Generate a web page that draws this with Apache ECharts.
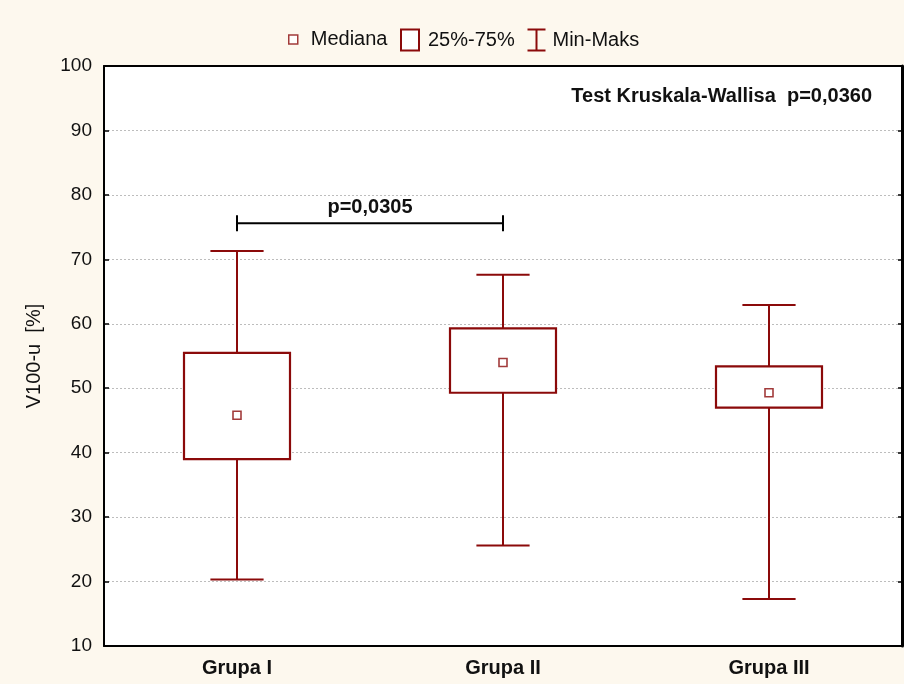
<!DOCTYPE html>
<html><head><meta charset="utf-8">
<script src="https://cdn.jsdelivr.net/npm/echarts@6/dist/echarts.min.js"></script>
<style>html,body{margin:0;padding:0;background:#fdf8ee}#c{width:904px;height:684px}</style>
</head><body><div id="c"></div>
<script>
// ---- data ----
const categories = ['Grupa I', 'Grupa II', 'Grupa III'];
const minValues = [20.3, 25.6, 17.3];
const q1Values = [39.0, 49.3, 47.0];
const medianValues = [45.8, 54.0, 49.3];
const q3Values = [55.5, 59.3, 53.4];
const maxValues = [71.3, 67.6, 62.9];
const yMin = 10, yMax = 100, yInterval = 10;
const comparisonFrom = 0, comparisonTo = 1, comparisonY = 75.6;
const comparisonLabel = 'p=0,0305';
const testLabel = 'Test Kruskala-Wallisa  p=0,0360';
const yAxisName = 'V100-u  [%]';
const legendNames = ['Mediana', '25%-75%', 'Min-Maks'];

// ---- styling ----
const RED = '#8b0a0a';
const FONT = '"Liberation Sans", Arial, sans-serif';

const boxData = categories.map((c, i) => [i, q1Values[i], q3Values[i]]);
const whiskerData = categories.map((c, i) => [i, minValues[i], q1Values[i], q3Values[i], maxValues[i]]);
const medianData = categories.map((c, i) => [i, medianValues[i]]);

const chart = echarts.init(document.getElementById('c'), null, {renderer: 'canvas'});

const legendBase = {
  orient: 'horizontal', padding: 0, itemGap: 0,
  textStyle: {fontSize: 20, color: '#111', fontFamily: FONT},
  selectedMode: false
};

chart.setOption({
  backgroundColor: '#fdf8ee',
  animation: false,
  grid: {left: 104, right: 2, top: 66, bottom: 38, show: true, backgroundColor: '#ffffff', borderWidth: 0},
  legend: [
    Object.assign({}, legendBase, {
      left: 288, top: 29.5, itemWidth: 9, itemHeight: 9,
      data: [{name: legendNames[0], icon: 'rect'}],
      itemStyle: {color: '#fff', borderColor: RED, borderWidth: 1.5},
      textStyle: Object.assign({}, legendBase.textStyle, {padding: [0, 0, 0, 8]})
    }),
    Object.assign({}, legendBase, {
      left: 400, top: 28.5, itemWidth: 18, itemHeight: 21,
      data: [{name: legendNames[1], icon: 'rect'}],
      itemStyle: {color: '#fff', borderColor: RED, borderWidth: 2},
      textStyle: Object.assign({}, legendBase.textStyle, {padding: [0, 0, 0, 4]})
    }),
    Object.assign({}, legendBase, {
      left: 525, top: 27, itemWidth: 18, itemHeight: 21,
      data: [{name: legendNames[2], icon: 'path://M0,0H18M9,0V21M0,21H18'}],
      itemStyle: {color: 'none', borderColor: RED, borderWidth: 2},
      textStyle: Object.assign({}, legendBase.textStyle, {padding: [0, 0, 0, 2]})
    })
  ],
  xAxis: [{
    type: 'category', data: categories, boundaryGap: true,
    axisLine: {lineStyle: {color: '#000', width: 2}},
    axisTick: {inside: true, alignWithLabel: true, length: 5, lineStyle: {color: '#000', width: 1.5}},
    axisLabel: {fontSize: 20, fontWeight: 'bold', color: '#111', fontFamily: FONT, margin: 12},
    splitLine: {show: false}
  }, {
    type: 'category', data: categories, position: 'top', boundaryGap: true,
    axisLine: {lineStyle: {color: '#000', width: 2}},
    axisTick: {inside: true, alignWithLabel: true, length: 5, lineStyle: {color: '#000', width: 1.5}},
    axisLabel: {show: false}, splitLine: {show: false}
  }],
  yAxis: [{
    type: 'value', min: yMin, max: yMax, interval: yInterval,
    name: yAxisName, nameLocation: 'middle', nameGap: 60,
    nameTextStyle: {fontSize: 20, color: '#111', fontFamily: FONT},
    axisLine: {show: true, lineStyle: {color: '#000', width: 2}},
    axisTick: {show: true, inside: true, length: 5, lineStyle: {color: '#000', width: 1.5}},
    axisLabel: {fontSize: 19, color: '#111', fontFamily: FONT, margin: 12},
    splitLine: {show: true, lineStyle: {color: '#bdbdbd', width: 1, type: [2, 2]}}
  }, {
    type: 'value', min: yMin, max: yMax, interval: yInterval, position: 'right',
    axisLine: {show: true, lineStyle: {color: '#000', width: 3}},
    axisTick: {show: true, inside: true, length: 4, lineStyle: {color: '#000', width: 1.5}},
    axisLabel: {show: false}, splitLine: {show: false}
  }],
  series: [
    {
      name: legendNames[2], type: 'custom', xAxisIndex: 0, yAxisIndex: 0,
      data: whiskerData, encode: {x: 0, y: [1, 2, 3, 4]}, z: 3,
      renderItem: function (params, api) {
        const i = api.value(0);
        const pMin = api.coord([i, api.value(1)]);
        const pQ1 = api.coord([i, api.value(2)]);
        const pQ3 = api.coord([i, api.value(3)]);
        const pMax = api.coord([i, api.value(4)]);
        const cw = api.size([1, 0])[0] * 0.2;
        const x = Math.round(pMin[0]);
        const st = {stroke: RED, lineWidth: 2};
        return {type: 'group', children: [
          {type: 'line', shape: {x1: x, y1: pMax[1], x2: x, y2: pQ3[1]}, style: st},
          {type: 'line', shape: {x1: x, y1: pQ1[1], x2: x, y2: pMin[1]}, style: st},
          {type: 'line', shape: {x1: x - cw / 2, y1: pMax[1], x2: x + cw / 2, y2: pMax[1]}, style: st},
          {type: 'line', shape: {x1: x - cw / 2, y1: pMin[1], x2: x + cw / 2, y2: pMin[1]}, style: st}
        ]};
      }
    },
    {
      name: legendNames[1], type: 'custom', xAxisIndex: 0, yAxisIndex: 0,
      data: boxData, encode: {x: 0, y: [1, 2]}, z: 4,
      renderItem: function (params, api) {
        const i = api.value(0);
        const pQ1 = api.coord([i, api.value(1)]);
        const pQ3 = api.coord([i, api.value(2)]);
        const bw = api.size([1, 0])[0] * 0.4;
        return {type: 'rect',
          shape: {x: Math.round(pQ1[0] - bw / 2), y: pQ3[1], width: Math.round(bw), height: pQ1[1] - pQ3[1]},
          style: {fill: '#fff', stroke: RED, lineWidth: 2.2}};
      }
    },
    {
      name: legendNames[0], type: 'scatter', xAxisIndex: 0, yAxisIndex: 0,
      data: medianData, symbol: 'rect', symbolSize: 8, z: 5,
      itemStyle: {color: '#fff', borderColor: RED, borderWidth: 1.6}
    },
    {
      name: 'comparison', type: 'custom', xAxisIndex: 0, yAxisIndex: 0,
      data: [[comparisonFrom, comparisonTo, comparisonY]], encode: {x: [0, 1], y: 2}, z: 6,
      renderItem: function (params, api) {
        const p0 = api.coord([api.value(0), api.value(2)]);
        const p1 = api.coord([api.value(1), api.value(2)]);
        const st = {stroke: '#000', lineWidth: 2};
        const y = p0[1];
        return {type: 'group', children: [
          {type: 'line', shape: {x1: p0[0], y1: y, x2: p1[0], y2: y}, style: st},
          {type: 'line', shape: {x1: p0[0], y1: y - 8, x2: p0[0], y2: y + 8}, style: st},
          {type: 'line', shape: {x1: p1[0], y1: y - 8, x2: p1[0], y2: y + 8}, style: st},
          {type: 'text', x: (p0[0] + p1[0]) / 2, y: y - 16,
            style: {text: comparisonLabel, fill: '#111', fontSize: 20, fontWeight: 'bold', fontFamily: FONT,
              align: 'center', verticalAlign: 'middle'}}
        ]};
      }
    }
  ],
  graphic: [{
    type: 'text', x: 872, y: 96, z: 10,
    style: {text: testLabel, fill: '#111', fontSize: 20, fontWeight: 'bold', fontFamily: FONT,
      align: 'right', verticalAlign: 'middle'}
  }]
});
</script>
</body></html>
